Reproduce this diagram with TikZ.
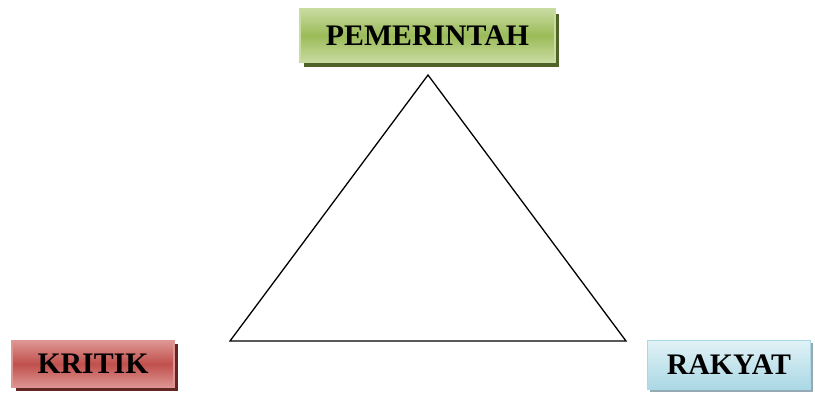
\documentclass[tikz,border=0pt]{standalone}
\usepackage{fontspec}
\setmainfont{Liberation Serif}
\usepackage{xcolor}
\usepackage{tikz}
\usetikzlibrary{shadows,positioning}
\definecolor{govGreen}{RGB}{155,187,89}
\definecolor{govLight}{RGB}{200,219,160}
\definecolor{govDark}{RGB}{79,98,40}
\definecolor{kritRed}{RGB}{192,80,77}
\definecolor{kritLight}{RGB}{222,150,148}
\definecolor{kritDark}{RGB}{99,37,35}
\definecolor{rakBlue}{RGB}{170,216,228}
\definecolor{rakLight}{RGB}{225,242,246}
\definecolor{rakDark}{RGB}{150,170,180}

\begin{document}
\begin{tikzpicture}[x=1pt,y=-1pt,
  actor/.style={inner sep=0pt,align=center,font=\fontsize{29.8}{32}\selectfont\bfseries},
  gov/.style={actor,draw=govLight,line width=1.2pt,top color=govLight,bottom color=govLight,middle color=govGreen,
    general shadow={fill=govDark,shadow xshift=3.5pt,shadow yshift=-4.5pt}},
  crit/.style={actor,draw=kritLight,line width=1.2pt,top color=kritLight,bottom color=kritLight,middle color=kritRed,
    general shadow={fill=kritDark,shadow xshift=3.5pt,shadow yshift=-3pt}},
  folk/.style={actor,draw=rakBlue,line width=1pt,top color=rakLight,bottom color=rakBlue,
    general shadow={fill=rakDark,shadow xshift=2pt,shadow yshift=-2pt}},
  edge/.style={line width=1.3pt,line join=miter}
]
\useasboundingbox (0,0) rectangle (815,392);
\node[gov,minimum width=255pt,minimum height=53pt] (pem) at (427.5,35.5) {PEMERINTAH};
\node[crit,minimum width=162pt,minimum height=47pt] (krt) at (93,364) {KRITIK};
\node[folk,minimum width=163pt,minimum height=49pt] (rkt) at (729,365) {RAKYAT};
% segitiga
\coordinate (apex) at (428,75);
\coordinate (baseL) at (230,341);
\coordinate (baseR) at (626,341);
\draw[edge] (apex) -- (baseL) -- (baseR) -- cycle;
\end{tikzpicture}
\end{document}
